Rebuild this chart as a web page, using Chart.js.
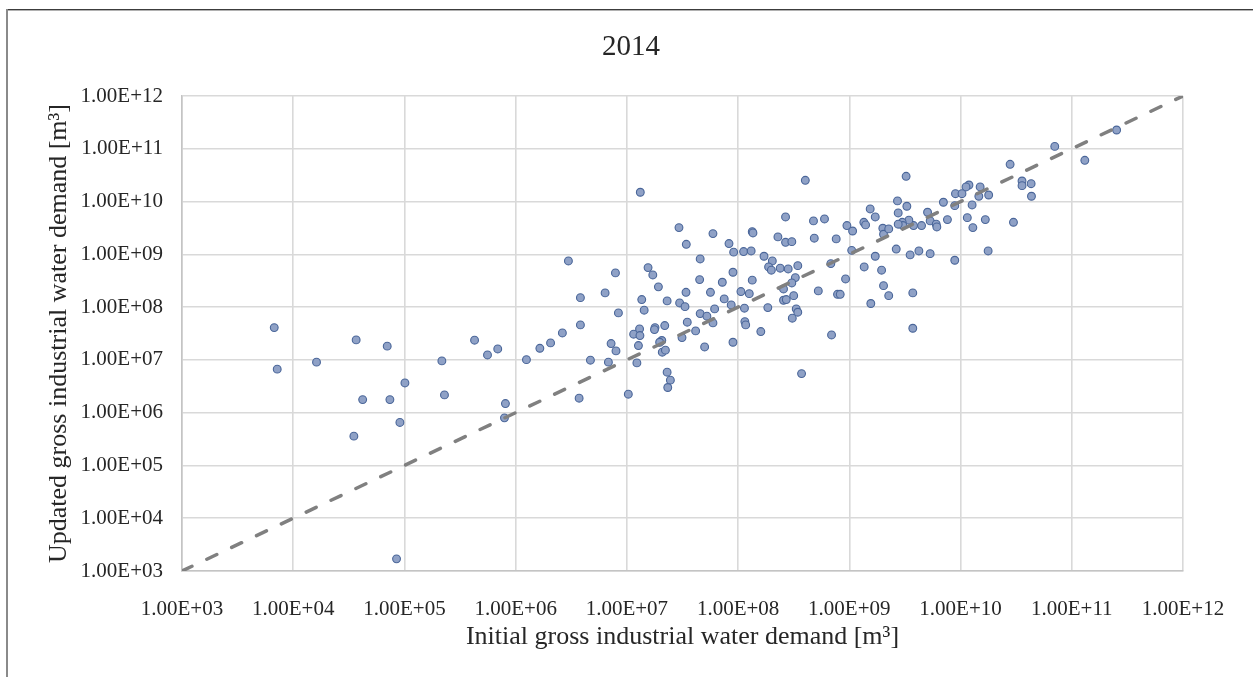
<!DOCTYPE html>
<html>
<head>
<meta charset="utf-8">
<title>2014 – Initial vs updated gross industrial water demand</title>
<script src="https://cdn.jsdelivr.net/npm/chart.js"></script>
<style>
  html, body { margin: 0; padding: 0; background: #ffffff; }
  #wrap { width: 1253px; height: 677px; position: relative; }
</style>
</head>
<body>
<div id="wrap"><canvas id="chart" width="1253" height="677"></canvas></div>
<script>
// Chart title and axis titles
const chartTitle = '2014';
const xTitle = 'Initial gross industrial water demand [m³]';
const yTitle = 'Updated gross industrial water demand [m³]';

// Decade ticks shared by both log axes, and their printed labels
const decades = [1e3, 1e4, 1e5, 1e6, 1e7, 1e8, 1e9, 1e10, 1e11, 1e12];
const tickLabels = ['1.00E+03', '1.00E+04', '1.00E+05', '1.00E+06', '1.00E+07',
                    '1.00E+08', '1.00E+09', '1.00E+10', '1.00E+11', '1.00E+12'];

// 1:1 reference line (initial = updated)
const refLineX = [1e3, 1e12];
const refLineY = [1e3, 1e12];

// Initial gross industrial water demand per region [m3]
const initialDemand = [
  6.75e3, 7.18e3, 1.62e4, 3.68e4, 7.0e4, 1.01e5, 4.21e4, 7.40e4, 9.10e4, 3.51e4,
  8.49e4, 2.17e5, 2.98e6, 1.55e7, 7.89e6, 1.71e7, 1.92e7, 6.37e6, 3.82e6, 1.36e7,
  2.30e7, 3.40e7, 2.98e7, 3.33e7, 1.43e7, 8.39e6, 3.82e6, 2.63e6, 1.15e7, 1.30e7,
  1.31e7, 1.79e7, 1.77e7, 2.19e7, 3.49e7, 3.13e7, 4.27e5, 5.58e5, 6.90e5, 1.25e6,
  1.65e6, 2.06e6, 4.70e6, 6.82e6, 7.21e6, 7.98e6, 1.27e7, 1.23e7, 2.06e7, 1.97e7,
  2.08e7, 2.22e7, 2.30e7, 2.46e7, 2.33e7, 1.03e7, 3.72e6, 2.29e5, 8.09e5, 7.93e5,
  1.32e7, 4.02e8, 1.54e9, 1.71e9, 2.67e8, 4.76e8, 5.98e8, 9.51e8, 1.07e9, 1.35e9,
  1.40e9, 2.94e7, 5.94e7, 1.34e8, 1.36e8, 2.28e8, 2.67e8, 3.04e8, 4.84e8, 7.62e8,
  3.42e7, 8.28e7, 9.12e7, 1.12e8, 1.31e8, 1.05e9, 4.56e7, 1.71e8, 2.03e8, 1.88e8,
  1.99e8, 2.39e8, 2.82e8, 3.44e8, 6.82e8, 1.71e9, 1.36e9, 4.51e7, 8.99e7, 7.21e7,
  1.34e8, 3.27e8, 3.04e8, 2.56e8, 9.25e8, 5.26e8, 7.83e8, 8.28e8, 1.56e9, 5.64e7,
  1.06e8, 1.26e8, 7.50e7, 8.67e7, 6.15e7, 1.14e8, 1.85e8, 2.56e8, 2.71e8, 3.16e8,
  3.33e8, 3.44e8, 3.07e8, 4.56e7, 5.24e7, 5.94e7, 4.15e7, 5.00e7, 8.99e7, 1.15e8,
  1.17e8, 1.60e8, 6.92e8, 3.72e8, 7.03e10, 1.31e11, 2.79e10, 3.24e9, 3.57e10, 3.57e10,
  4.31e10, 4.34e10, 1.19e10, 1.12e10, 1.50e10, 1.79e10, 1.46e10, 9.00e9, 1.03e10, 1.27e10,
  8.87e9, 7.01e9, 1.15e10, 1.67e10, 1.29e10, 7.62e9, 5.05e9, 5.33e9, 6.04e9, 6.12e9,
  4.46e9, 3.78e9, 3.43e9, 2.99e9, 3.03e9, 2.75e9, 2.71e9, 2.75e9, 3.29e9, 2.00e9,
  2.03e9, 2.26e9, 2.64e9, 3.52e9, 4.22e9, 5.33e9, 1.77e10, 2.99e10, 8.87e9, 1.95e9,
  2.03e9, 2.26e9, 3.72e9, 3.72e9, 2.53e11
];

// Updated gross industrial water demand per region [m3]
const updatedDemand = [
  4.09e7, 6.67e6, 9.06e6, 2.39e7, 1.82e7, 3.66e6, 1.77e6, 1.77e6, 6.52e5, 3.59e5,
  1.70e3, 9.57e6, 7.50e8, 5.60e8, 4.45e8, 4.07e8, 2.42e8, 1.86e8, 1.51e8, 1.39e8,
  1.31e8, 1.91e8, 1.20e8, 1.02e8, 8.73e7, 7.76e7, 4.60e7, 3.24e7, 3.07e7, 3.86e7,
  2.89e7, 4.09e7, 3.75e7, 4.47e7, 5.18e7, 2.65e7, 2.36e7, 1.24e7, 1.61e7, 1.01e7,
  1.66e7, 2.10e7, 9.86e6, 9.06e6, 2.04e7, 1.48e7, 1.87e7, 8.77e6, 2.33e7, 2.16e7,
  1.40e7, 1.53e7, 5.85e6, 4.13e6, 3.00e6, 2.24e6, 1.88e6, 2.17e6, 1.49e6, 7.98e5,
  1.50e10, 2.53e10, 7.24e9, 5.11e9, 5.11e9, 4.30e9, 4.68e9, 3.51e9, 2.77e9, 4.05e9,
  3.61e9, 3.21e9, 2.47e9, 2.69e9, 2.54e9, 2.14e9, 1.69e9, 1.74e9, 2.02e9, 1.96e9,
  1.55e9, 1.60e9, 1.10e9, 1.13e9, 1.16e9, 1.19e9, 8.18e8, 9.20e8, 7.50e8, 5.77e8,
  5.00e8, 5.46e8, 5.28e8, 6.11e8, 6.67e8, 9.20e8, 5.77e8, 3.32e8, 4.58e8, 2.96e8,
  3.24e8, 3.62e8, 2.87e8, 2.21e8, 3.42e8, 2.03e8, 1.75e8, 1.75e8, 1.17e8, 1.91e8,
  1.97e8, 1.80e8, 1.43e8, 1.10e8, 9.25e7, 9.53e7, 9.79e7, 1.35e8, 1.39e8, 1.65e8,
  9.25e7, 8.00e7, 6.17e7, 7.53e7, 6.73e7, 5.02e7, 3.54e7, 1.76e7, 2.16e7, 5.32e7,
  4.60e7, 3.44e7, 2.97e7, 5.50e6, 1.11e11, 6.05e10, 5.08e10, 3.01e10, 2.45e10, 2.00e10,
  2.18e10, 1.26e10, 2.06e10, 1.89e10, 1.89e10, 1.33e10, 1.26e10, 1.41e10, 1.41e10, 8.63e9,
  8.36e9, 9.70e9, 4.95e9, 4.55e9, 3.21e9, 4.55e9, 6.27e9, 4.30e9, 3.72e9, 3.30e9,
  3.51e9, 3.51e9, 4.43e9, 4.05e9, 3.51e9, 3.72e9, 1.03e10, 6.08e9, 8.15e9, 3.12e9,
  2.40e9, 3.03e9, 1.26e9, 9.75e8, 1.16e9, 1.03e9, 1.16e9, 4.05e9, 7.73e8, 5.00e8,
  2.55e8, 1.65e8, 1.86e8, 3.98e7, 2.27e11
];

const serif = "'Liberation Serif', 'Times New Roman', serif";

const scatterPoints = initialDemand.map((x, i) => ({ x: x, y: updatedDemand[i] }));
const refPoints = refLineX.map((x, i) => ({ x: x, y: refLineY[i] }));

// Outer frame edges and the centred chart title
const decorPlugin = {
  id: 'decor',
  beforeDraw(chart) {
    const ctx = chart.ctx;
    ctx.save();
    ctx.fillStyle = '#ffffff';
    ctx.fillRect(0, 0, chart.width, chart.height);
    ctx.fillStyle = '#3c3c3c';
    ctx.fillRect(6, 9, chart.width - 6, 1.4);
    ctx.fillStyle = '#8a8a8a';
    ctx.fillRect(6, 9, 2, chart.height - 9);
    ctx.restore();
  },
  afterDraw(chart) {
    const ctx = chart.ctx;
    ctx.save();
    ctx.font = '29px ' + serif;
    ctx.fillStyle = '#262626';
    ctx.textAlign = 'center';
    ctx.textBaseline = 'middle';
    ctx.fillText(chartTitle, 631, 47);
    ctx.restore();
  }
};

function decadeTicks(scale) {
  scale.ticks = decades.map(v => ({ value: v }));
}

function decadeLabel(value) {
  const i = decades.findIndex(d => Math.abs(Math.log10(d) - Math.log10(value)) < 1e-6);
  return i >= 0 ? tickLabels[i] : '';
}

const gridStyle = { color: '#d9d9d9', lineWidth: 1.6, drawTicks: false };
const borderStyle = { color: '#c4c4c4', width: 1.6 };
const tickFont = { family: serif, size: 21 };
const axisTitleFont = { family: serif, size: 26 };

new Chart(document.getElementById('chart'), {
  type: 'scatter',
  data: {
    datasets: [
      {
        label: '1:1',
        type: 'line',
        data: refPoints,
        showLine: true,
        borderColor: '#808080',
        borderWidth: 3.5,
        borderDash: [11, 16.5],
        borderCapStyle: 'round',
        pointRadius: 0,
        fill: false,
        order: 0
      },
      {
        label: '2014',
        data: scatterPoints,
        pointRadius: 3.9,
        pointBorderWidth: 1.1,
        backgroundColor: '#8fa1c6',
        borderColor: '#4a6699',
        order: 1
      }
    ]
  },
  options: {
    responsive: false,
    devicePixelRatio: 1,
    animation: false,
    layout: { padding: { left: 44, right: 70, top: 96, bottom: 24 } },
    plugins: {
      legend: { display: false },
      title: { display: false },
      tooltip: { enabled: false }
    },
    scales: {
      x: {
        type: 'logarithmic',
        min: 1e3,
        max: 1e12,
        afterBuildTicks: decadeTicks,
        afterFit(scale) { scale.height = 82; },
        grid: gridStyle,
        border: borderStyle,
        ticks: {
          autoSkip: false,
          maxRotation: 0,
          padding: 26,
          color: '#262626',
          font: tickFont,
          callback: decadeLabel
        },
        title: {
          display: true,
          text: xTitle,
          color: '#262626',
          font: axisTitleFont,
          padding: { top: 0, bottom: 0 }
        }
      },
      y: {
        type: 'logarithmic',
        min: 1e3,
        max: 1e12,
        afterBuildTicks: decadeTicks,
        afterFit(scale) { scale.width = 138; },
        grid: gridStyle,
        border: borderStyle,
        ticks: {
          autoSkip: false,
          padding: 19,
          color: '#262626',
          font: tickFont,
          callback: decadeLabel
        },
        title: {
          display: true,
          text: yTitle,
          color: '#262626',
          font: axisTitleFont,
          padding: { top: 0, bottom: 0 }
        }
      }
    }
  },
  plugins: [decorPlugin]
});
</script>
</body>
</html>
